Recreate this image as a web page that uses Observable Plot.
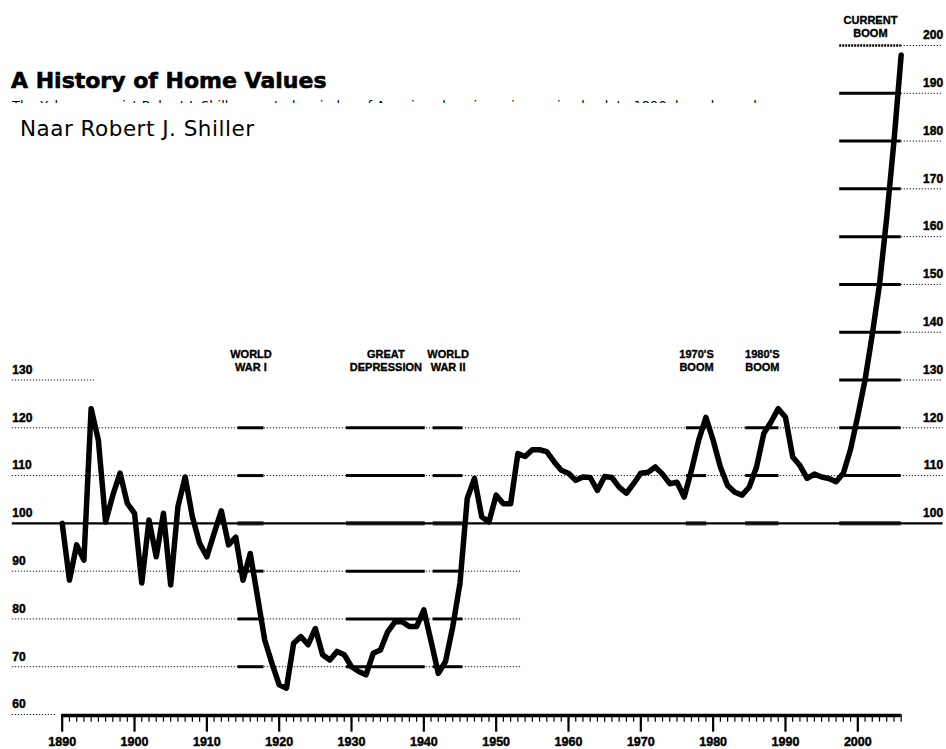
<!DOCTYPE html>
<html>
<head>
<meta charset="utf-8">
<script src="https://cdn.jsdelivr.net/npm/d3@7"></script>
<script src="https://cdn.jsdelivr.net/npm/@observablehq/plot@0.6"></script>
<style>
body{margin:0;background:#fff;}
#wrap{position:relative;width:946px;height:749px;overflow:hidden;background:#fff;}
#wrap svg{position:absolute;left:0;top:0;}
#title{position:absolute;left:11px;top:70px;font:bold 22px/22px "DejaVu Sans",sans-serif;-webkit-text-stroke:0.6px #000;white-space:nowrap;color:#000;}
#sub{position:absolute;left:12px;top:100px;height:2.5px;width:755px;overflow:hidden;}
#sub span{display:block;font:13px/13px "DejaVu Sans",sans-serif;margin-top:-1.5px;white-space:nowrap;color:#000;}
#src{position:absolute;left:20px;top:118px;font:21.5px/22px "DejaVu Sans",sans-serif;letter-spacing:0.5px;white-space:nowrap;color:#000;}
</style>
</head>
<body>
<div id="wrap">
  <div id="chart"></div>
  <div id="title">A History of Home Values</div>
  <div id="sub"><span>The Yale economist Robert J. Shiller created an index of American housing prices going back to 1890, based on sale prices of existing houses.</span></div>
  <div id="src">Naar Robert J. Shiller</div>
</div>
<script>
// ---- data ----
const years = [
  1890,1891,1892,1893,1894,1895,1896,1897,1898,1899,
  1900,1901,1902,1903,1904,1905,1906,1907,1908,1909,
  1910,1911,1912,1913,1914,1915,1916,1917,1918,1919,
  1920,1921,1922,1923,1924,1925,1926,1927,1928,1929,
  1930,1931,1932,1933,1934,1935,1936,1937,1938,1939,
  1940,1941,1942,1943,1944,1945,1946,1947,1948,1949,
  1950,1951,1952,1953,1954,1955,1956,1957,1958,1959,
  1960,1961,1962,1963,1964,1965,1966,1967,1968,1969,
  1970,1971,1972,1973,1974,1975,1976,1977,1978,1979,
  1980,1981,1982,1983,1984,1985,1986,1987,1988,1989,
  1990,1991,1992,1993,1994,1995,1996,1997,1998,1999,
  2000,2001,2002,2003,2004,2005,2006
];
const homeValue = [
  100,88.1,95.5,92.3,124,117.4,100.3,105.9,110.5,104.2,
  102.1,87.5,100.7,93,102.1,87.1,103.5,109.7,101.4,95.8,
  93,97.9,102.6,95.5,97.1,88.1,93.7,84.7,75.6,70.7,
  66.2,65.5,74.9,76.3,74.6,78,72.5,71.4,73.2,72.5,
  70,69,68.3,72.8,73.5,77.3,79.4,79.4,78.4,78.4,
  81.9,75.3,68.6,71.1,78.4,87.5,105.2,109.4,101.4,100.3,
  105.9,104.1,104.1,114.6,114,115.4,115.4,115,112.9,111.1,
  110.5,109,109.7,109.6,106.9,109.8,109.6,107.6,106.3,108.3,
  110.5,110.7,111.8,110.3,108.3,108.6,105.5,111.1,117.4,122.2,
  117.4,111.8,107.9,106.5,105.9,107.6,111.8,118.8,121.2,124,
  122.2,113.9,112.1,109.4,110.3,109.7,109.4,108.7,110.5,115.5,
  122.5,130,139.5,150,164,180,198
];
const decadeLabels = [1890,1900,1910,1920,1930,1940,1950,1960,1970,1980,1990,2000];
const leftLabels = [60,70,80,90,100,110,120,130];
const rightLabels = [100,110,120,130,140,150,160,170,180,190,200];
const eraNames = ["WORLD\nWAR I","GREAT\nDEPRESSION","WORLD\nWAR II","1970'S\nBOOM","1980'S\nBOOM","CURRENT\nBOOM"];
const eraStart = [1914.3,1929.3,1941.3,1976.3,1984.5,1997.5];
const eraEnd   = [1917.9,1940.2,1945.4,1979.1,1989.1,2006];
const eraLow   = [70,70,70,100,100,100];
const eraHigh  = [120,120,120,120,120,200];

// ---- derived tables ----
const series = years.map((year, i) => ({year, value: homeValue[i]}));
const L = 1883.1, R = 2011.8, END = 2006;
const dotted = [];
[110,120].forEach(v => dotted.push({v, x1: L, x2: R}));
[70,80,90].forEach(v => dotted.push({v, x1: L, x2: 1953.5}));
dotted.push({v: 60, x1: L, x2: 1889.1});
dotted.push({v: 130, x1: L, x2: 1894.6});
rightLabels.filter(v => v >= 130).forEach(v => dotted.push({v, x1: END, x2: R}));

const eraSegs = [];
eraNames.forEach((n, i) => {
  for (let v = eraLow[i]; v <= eraHigh[i]; v += 10) eraSegs.push({v, x1: eraStart[i], x2: eraEnd[i]});
});
const eras = eraNames.map((name, i) => ({name, mid: (eraStart[i] + eraEnd[i]) / 2, top: eraHigh[i] >= 200 ? 200 : 130}));
const minorYears = d3.range(1890, 2007);

const font = "Liberation Sans, Arial, sans-serif";
const heavy = {fontWeight: "bold", fill: "#000", stroke: "#000", strokeWidth: 0.45};

const chart = Plot.plot({
  width: 946,
  height: 749,
  margin: 0,
  style: {fontFamily: font, background: "transparent", overflow: "visible"},
  x: {domain: [1890, 2006], range: [61.7, 900.7], axis: null},
  y: {domain: [60, 200], range: [714, 45], axis: null},
  marks: [
    Plot.ruleY(dotted, {y: "v", x1: "x1", x2: "x2", stroke: "#222", strokeWidth: 1, strokeDasharray: "1.3,1.7"}),
    Plot.ruleY(eraSegs.filter(d => d.v === 100), {y: "v", x1: "x1", x2: "x2", stroke: "#555", strokeWidth: 4.5}),
    Plot.ruleY([100], {x1: L, x2: R, stroke: "#000", strokeWidth: 2.2}),
    Plot.ruleY(eraSegs.filter(d => d.v !== 100 && d.v !== 200), {y: "v", x1: "x1", x2: "x2", stroke: "#000", strokeWidth: 3}),
    Plot.ruleY(eraSegs.filter(d => d.v === 200), {y: "v", x1: "x1", x2: "x2", stroke: "#000", strokeWidth: 2.4, strokeDasharray: "2,1"}),
    // x axis
    Plot.ruleY([60], {x1: 1890, x2: 2006, stroke: "#000", strokeWidth: 3.5, dy: 1}),
    Plot.ruleX(minorYears, {x: d => d, y1: 60, y2: 58.4, stroke: "#000", strokeWidth: 1.2}),
    Plot.ruleX(decadeLabels, {x: d => d, y1: 60, y2: 56.3, stroke: "#000", strokeWidth: 2.2}),
    Plot.text(decadeLabels, {x: d => d, y: 60, dy: 27, text: d => String(d), fontSize: 12.5, ...heavy}),
    // y labels
    Plot.text(leftLabels, {x: L, y: d => d, dy: -10, text: d => String(d), textAnchor: "start", fontSize: 12, ...heavy}),
    Plot.text(rightLabels, {x: R, y: d => d, dy: -10, text: d => String(d), textAnchor: "end", fontSize: 12, ...heavy}),
    // era labels
    Plot.text(eras, {x: "mid", y: "top", dy: -31, text: "name", lineAnchor: "top", lineHeight: 1.18, fontSize: 11, ...heavy, strokeWidth: 0.35}),
    // the index
    Plot.line(series, {x: "year", y: "value", stroke: "#000", strokeWidth: 5.5, strokeLinejoin: "round"})
  ]
});
document.getElementById("chart").appendChild(chart);
</script>
</body>
</html>
